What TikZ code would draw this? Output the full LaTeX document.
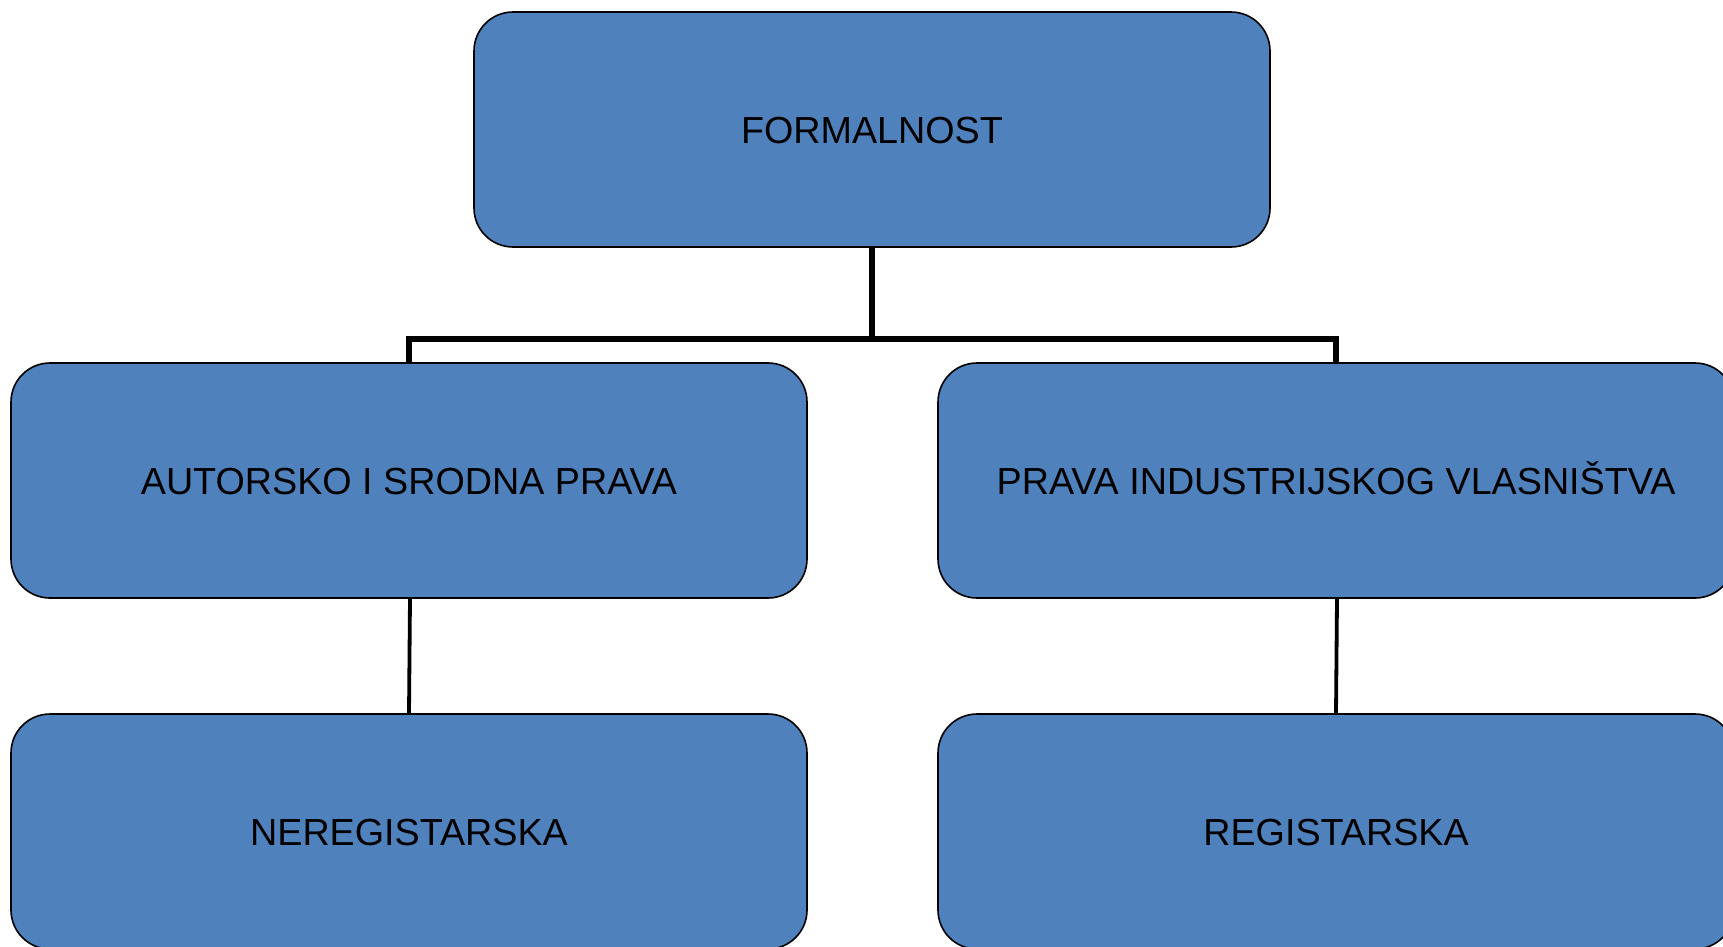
\documentclass[tikz,border=0pt]{standalone}
\usepackage{fontspec}
\setmainfont{Liberation Sans}
\definecolor{boxblue}{HTML}{4F81BD}
\tikzset{
  orgbox/.style={draw=black, line width=1.6pt, fill=boxblue, rounded corners=39pt,
    minimum width=796pt, minimum height=235pt, inner sep=0pt,
    text height=27pt, text depth=0pt,
    font=\fontsize{37.7pt}{41pt}\selectfont, text=black},
  thickline/.style={draw=black, line width=5.2pt},
  thinline/.style={draw=black, line width=3.8pt}
}
\begin{document}
\begin{tikzpicture}[x=1pt,y=-1pt]
\useasboundingbox (0,0) rectangle (1723,946);
\fill[white] (0,0) rectangle (1723,946);
\clip (0,0) rectangle (1723,946);
\node[orgbox] (top) at (872,129.5) {FORMALNOST};
\node[orgbox] (lm) at (409,480.5) {AUTORSKO I SRODNA PRAVA};
\node[orgbox] (rm) at (1336,480.5) {PRAVA INDUSTRIJSKOG VLASNIŠTVA};
\node[orgbox] (lb) at (409,831.5) {NEREGISTARSKA};
\node[orgbox] (rb) at (1336,831.5) {REGISTARSKA};
\coordinate (bar) at (872,339);
\draw[thickline] (top.south) -- (bar);
\draw[thickline] (lm.north) |- (bar) -| (rm.north);
\draw[thinline] ([xshift=1pt]lm.south) -- (lb.north);
\draw[thinline] ([xshift=1pt]rm.south) -- (rb.north);
\end{tikzpicture}
\end{document}
